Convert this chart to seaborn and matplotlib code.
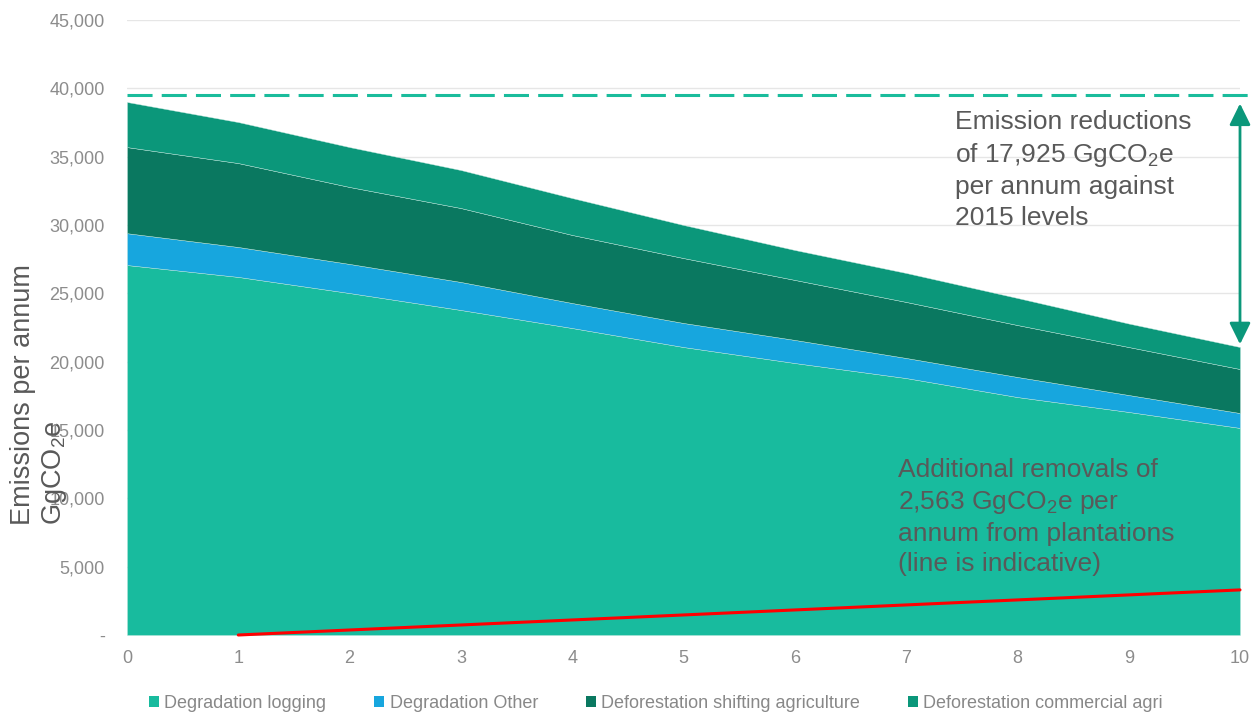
import matplotlib
matplotlib.use("Agg")
import matplotlib.pyplot as plt
from matplotlib.patches import Patch
import seaborn as sns
import pandas as pd

# Annual emissions by source (GgCO2e), years 0-10
years = list(range(11))
degradation_logging = [27070, 26200, 25020, 23780, 22460, 21070, 19900, 18800, 17410, 16320, 15150]
degradation_other = [2330, 2190, 2130, 2050, 1830, 1760, 1690, 1470, 1470, 1240, 1090]
deforestation_shifting = [6300, 6140, 5630, 5410, 4980, 4750, 4390, 4100, 3800, 3510, 3220]
deforestation_commercial = [3300, 3000, 2920, 2780, 2700, 2420, 2190, 2120, 1980, 1720, 1610]

series_names = ["Degradation logging", "Degradation Other",
                "Deforestation shifting agriculture", "Deforestation commercial agri"]
series_colors = ["#18BB9E", "#17A6DE", "#0A7860", "#0B977A"]

# 2015 reference level and indicative plantation removals
baseline_2015 = 39500
removal_years = [1, 10]
removal_values = [0, 3300]

y_ticks = list(range(0, 45001, 5000))
y_tick_labels = ["-"] + [f"{v:,}" for v in y_ticks[1:]]

sns.set_theme(style="whitegrid")
plt.rcParams["font.family"] = ["Liberation Sans", "DejaVu Sans"]
plt.rcParams["mathtext.fontset"] = "custom"
plt.rcParams["mathtext.rm"] = "Liberation Sans"
plt.rcParams["mathtext.it"] = "Liberation Sans:italic"

fig = plt.figure(figsize=(12.59, 7.16), dpi=100)
ax = fig.add_axes([127 / 1259, 1 - 635 / 716, (1240 - 127) / 1259, (635 - 20) / 716])

stack = pd.DataFrame({
    "year": years,
    series_names[0]: degradation_logging,
    series_names[1]: degradation_other,
    series_names[2]: deforestation_shifting,
    series_names[3]: deforestation_commercial,
})

ax.stackplot(stack["year"], *[stack[n] for n in series_names],
             colors=series_colors, edgecolor="#bfe6dc", linewidth=0.3, zorder=2)

# Reference level of 2015
ax.hlines(baseline_2015, 0, 10.1, colors="#1ABC9C", linewidth=2.2,
          linestyles=(0, (8.2, 3.0)), clip_on=False, zorder=3)

# Plantation removals
sns.lineplot(x=removal_years, y=removal_values, color="#FF0000", linewidth=2.2,
             ax=ax, zorder=4, clip_on=False)

# Reduction arrow between the 2015 level and the final year total
total_final = (degradation_logging[-1] + degradation_other[-1]
               + deforestation_shifting[-1] + deforestation_commercial[-1])
ax.annotate("", xy=(10, total_final), xytext=(10, baseline_2015),
            arrowprops=dict(arrowstyle="<|-|>,head_length=0.65,head_width=0.32",
                            color="#0B977A", lw=2.0, mutation_scale=20,
                            shrinkA=6, shrinkB=2),
            annotation_clip=False, zorder=5)

text_color = "#595959"
ax.text(7.44, 38400,
        "Emission reductions\nof 17,925 GgCO$_2$e\nper annum against\n2015 levels",
        fontsize=19, color=text_color, ha="left", va="top", linespacing=1.33, zorder=6)
ax.text(6.93, 12950,
        "Additional removals of\n2,563 GgCO$_2$e per\nannum from plantations\n(line is indicative)",
        fontsize=19, color=text_color, ha="left", va="top", linespacing=1.33, zorder=6)

ax.set_xlim(0, 10)
ax.set_ylim(0, 45000)
ax.set_xticks(years)
ax.set_yticks(y_ticks)
ax.set_yticklabels(y_tick_labels)
tick_color = "#8C8C8C"
ax.tick_params(axis="x", labelsize=13, colors=tick_color, pad=11, length=0)
ax.tick_params(axis="y", labelsize=13, colors=tick_color, pad=16, length=0)
ax.grid(axis="y", color="#E6E6E6", linewidth=1)
ax.grid(axis="x", visible=False)
for s in ax.spines.values():
    s.set_visible(False)
ax.set_axisbelow(True)

fig.text(10 / 1259, 1 - 525 / 716, "Emissions per annum\nGgCO$_2$e", rotation=90,
         fontsize=19.5, color=text_color, ha="left", va="bottom",
         multialignment="left", linespacing=1.2)

handles = [Patch(facecolor=c, edgecolor="none") for c in series_colors]
fig.legend(handles, series_names, loc="center", bbox_to_anchor=(656 / 1259, 1 - 703 / 716),
           ncol=4, frameon=False, fontsize=13, labelcolor="#888888",
           handlelength=0.55, handleheight=0.55, handletextpad=0.3, columnspacing=2.65)

fig.savefig("out.png", dpi=100)
